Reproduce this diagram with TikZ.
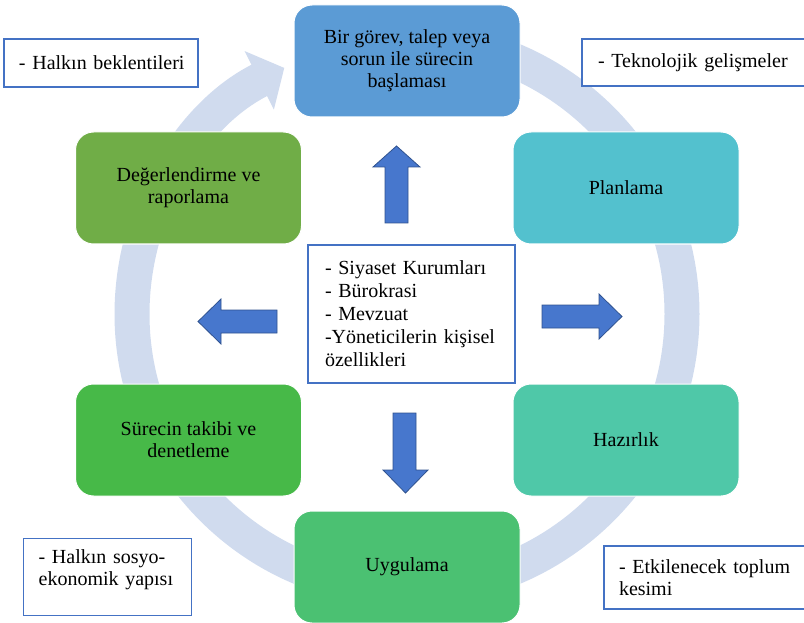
\documentclass[tikz,border=0pt]{standalone}
\usepackage{fontspec}
\setmainfont{Liberation Serif}
\usepackage{xcolor}
\usepackage{tikz}
\usetikzlibrary{arrows.meta}

\definecolor{ringc}{HTML}{D0DBEE}
\definecolor{topblue}{HTML}{5B9BD5}
\definecolor{planteal}{HTML}{53C1CE}
\definecolor{hazgreen}{HTML}{4FC8A8}
\definecolor{uyggreen}{HTML}{4BC172}
\definecolor{surgreen}{HTML}{47B948}
\definecolor{deggreen}{HTML}{70AD47}
\definecolor{noteblue}{HTML}{4472C4}
\definecolor{arrowfill}{HTML}{4777CD}
\definecolor{arrowedge}{HTML}{2F528F}

\begin{document}
\begin{tikzpicture}[x=1pt,y=-1pt,
    stage/.style={rounded corners=18pt, draw=white, line width=1pt,
      minimum width=226pt, minimum height=112pt, align=center,
      font=\fontsize{20}{22}\selectfont},
    note/.style={draw=noteblue, line width=1.3pt, fill=white, align=left,
      inner xsep=15pt, font=\fontsize{20}{22}\selectfont},
    blockarrow/.style={fill=arrowfill, draw=arrowedge, line width=0.8pt}]
    \useasboundingbox (0,0) rectangle (804,623);

    % cycle ring
    \coordinate (ringStart) at (407,39);
    \draw[ringc, line width=35pt, -{Triangle[width=64pt,length=28pt]}]
      (ringStart) arc[start angle=-90, end angle=243.5, radius=275];

    % stages
    \node[stage, fill=topblue] (gorev) at (407,61)
      {Bir görev, talep veya\\ sorun ile sürecin\\ başlaması};
    \node[stage, fill=planteal] (planlama) at (626,188) {Planlama};
    \node[stage, fill=hazgreen] (hazirlik) at (626,440) {Hazırlık};
    \node[stage, fill=uyggreen] (uygulama) at (407,567) {Uygulama};
    \node[stage, fill=surgreen] (takip) at (188.5,440)
      {Sürecin takibi ve\\ denetleme};
    \node[stage, fill=deggreen] (degerlendirme) at (188.5,188)
      {Değerlendirme ve\\ raporlama};

    % centre box
    \node[note, text width=173pt, inner xsep=17pt, minimum height=138pt,
      font=\fontsize{20}{23}\selectfont] (etkenler) at (411.5,314)
      {- Siyaset Kurumları\\ - Bürokrasi\\ - Mevzuat\\
       \makebox[173pt][s]{-Yöneticilerin kişisel}\\ özellikleri};

    % block arrows
    \draw[blockarrow] (385,223) -- (385,167) -- (373,167) -- (396.5,146)
      -- (420,167) -- (408,167) -- (408,223) -- cycle;
    \draw[blockarrow] (393,413) -- (416,413) -- (416,470) -- (428,470)
      -- (405.5,493) -- (383,470) -- (393,470) -- cycle;
    \draw[blockarrow] (277,310) -- (221,310) -- (221,299) -- (198,321.5)
      -- (221,344) -- (221,333) -- (277,333) -- cycle;
    \draw[blockarrow] (542,305) -- (599,305) -- (599,294) -- (622,316.5)
      -- (599,339) -- (599,328) -- (542,328) -- cycle;

    % outside factors
    \node[note, text width=164pt, minimum height=48pt] (halkBek) at (101,63)
      {\mbox{- Halkın beklentileri}};
    \node[note, text width=208pt, inner xsep=16pt, minimum height=47pt]
      (teknoGel) at (702,62.5) {- Teknolojik gelişmeler};
    \node[note, text width=138pt, inner ysep=11pt, anchor=north west]
      (halkSosyo) at (23,538)
      {\makebox[138pt][s]{- Halkın sosyo-}\\ ekonomik yapısı\rule[-19pt]{0pt}{19pt}};
    \node[note, text width=186pt, minimum height=63pt] (toplum) at (712,577.5)
      {- Etkilenecek toplum\\ kesimi};
\end{tikzpicture}
\end{document}
